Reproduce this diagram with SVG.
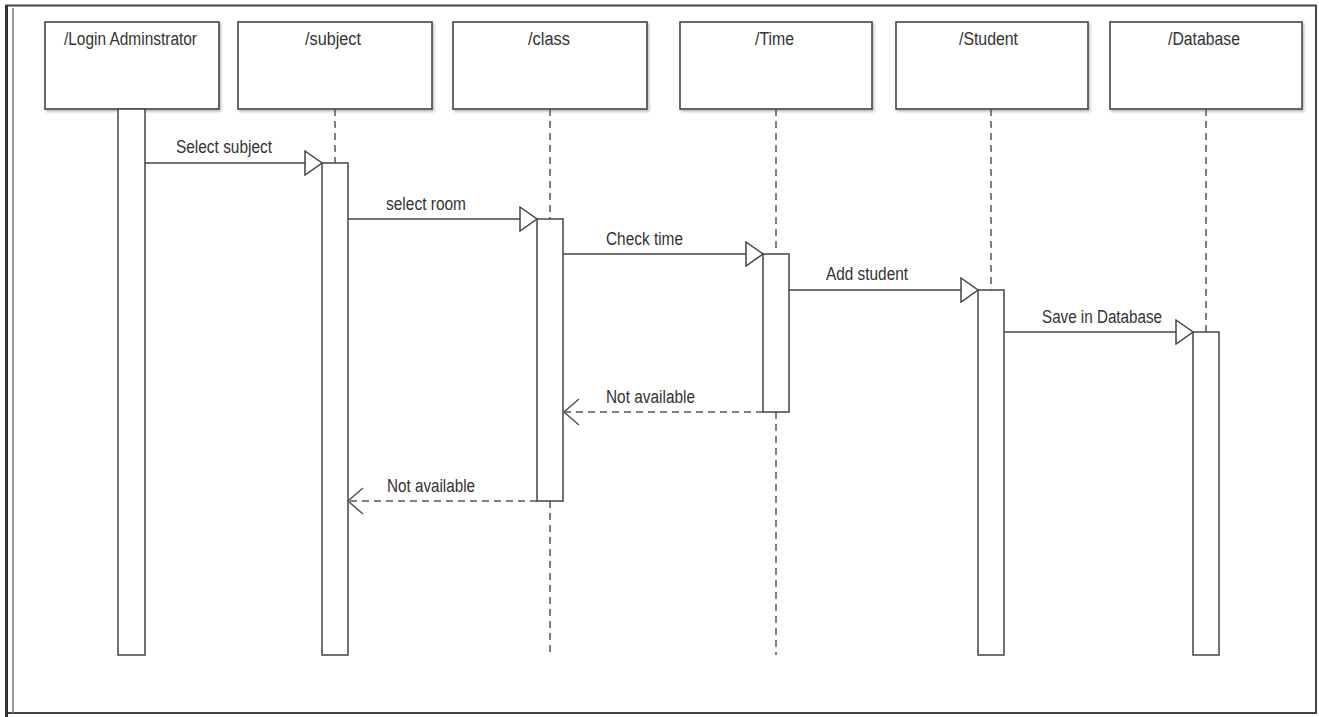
<svg xmlns="http://www.w3.org/2000/svg" width="1319" height="717" viewBox="0 0 1319 717">
<style>
.box{fill:#fff;stroke:#444;stroke-width:1.6}
.act{fill:#fff;stroke:#444;stroke-width:1.5}
.life{stroke:#555;stroke-width:1.5;stroke-dasharray:7 5;fill:none}
.t{font-family:"Liberation Sans",Arial,sans-serif;font-size:18px;fill:#333}
.msg{stroke:#444;stroke-width:1.5;fill:none}
.ret{stroke:#555;stroke-width:1.5;stroke-dasharray:7 5;fill:none}
</style>
<defs>
<filter id="sh" x="-5%" y="-5%" width="115%" height="120%">
<feDropShadow dx="1.5" dy="2" stdDeviation="1.2" flood-color="#000" flood-opacity="0.25"/>
</filter>
<marker id="tri" markerUnits="userSpaceOnUse" markerWidth="19" markerHeight="26" viewBox="-1 -1 19 26" refX="17" refY="12" orient="auto">
<path d="M0,0 L17,12 L0,24 Z" fill="#fff" stroke="#444" stroke-width="1.5"/>
</marker>
<marker id="open" markerUnits="userSpaceOnUse" markerWidth="17" markerHeight="28" viewBox="-1 -1 17 28" refX="15" refY="13" orient="auto">
<path d="M0,0 L15,13 L0,26" fill="none" stroke="#555" stroke-width="1.5"/>
</marker>
</defs>
<rect width="1319" height="717" fill="#fff"/>
<g id="frame" fill="none" stroke="#444">
<rect x="6.5" y="5.5" width="1309.5" height="707.5" stroke-width="2"/>
<line x1="6.5" y1="5" x2="6.5" y2="717" stroke-width="3" stroke="#333"/>
<line x1="13" y1="8" x2="13" y2="713" stroke-width="1.5" stroke="#777"/>
</g>

<g id="login">
<rect class="box" x="45" y="22" width="174" height="87" filter="url(#sh)"/>
<text class="t" x="64" y="45" textLength="133" lengthAdjust="spacingAndGlyphs">/Login Adminstrator</text>
<rect class="act" x="118" y="109" width="27" height="546"/>
</g>

<g id="subject">
<rect class="box" x="238" y="22" width="194" height="87" filter="url(#sh)"/>
<text class="t" x="305" y="45" textLength="56" lengthAdjust="spacingAndGlyphs">/subject</text>
<line class="life" x1="335" y1="109" x2="335" y2="163"/>
<rect class="act" x="322" y="163" width="26" height="492"/>
</g>

<g id="class">
<rect class="box" x="453" y="22" width="194" height="87" filter="url(#sh)"/>
<text class="t" x="528" y="45" textLength="42" lengthAdjust="spacingAndGlyphs">/class</text>
<line class="life" x1="550" y1="109" x2="550" y2="219"/>
<line class="life" x1="550" y1="501" x2="550" y2="655"/>
<rect class="act" x="537" y="219" width="26" height="282"/>
</g>

<g id="time">
<rect class="box" x="680" y="22" width="192" height="87" filter="url(#sh)"/>
<text class="t" x="755" y="45" textLength="39" lengthAdjust="spacingAndGlyphs">/Time</text>
<line class="life" x1="776" y1="109" x2="776" y2="254"/>
<line class="life" x1="776" y1="412" x2="776" y2="655"/>
<rect class="act" x="763" y="254" width="26" height="158"/>
</g>

<g id="student">
<rect class="box" x="896" y="22" width="192" height="87" filter="url(#sh)"/>
<text class="t" x="959" y="45" textLength="59" lengthAdjust="spacingAndGlyphs">/Student</text>
<line class="life" x1="991" y1="109" x2="991" y2="290"/>
<rect class="act" x="978" y="290" width="26" height="365"/>
</g>

<g id="database">
<rect class="box" x="1110" y="22" width="192" height="87" filter="url(#sh)"/>
<text class="t" x="1168" y="45" textLength="72" lengthAdjust="spacingAndGlyphs">/Database</text>
<line class="life" x1="1206" y1="109" x2="1206" y2="332"/>
<rect class="act" x="1193" y="332" width="26" height="323"/>
</g>

<g id="connectors">
<line class="msg" x1="145" y1="163" x2="322" y2="163" marker-end="url(#tri)"/>
<text class="t" x="176" y="153" textLength="96" lengthAdjust="spacingAndGlyphs">Select subject</text>
<line class="msg" x1="348" y1="219" x2="537" y2="219" marker-end="url(#tri)"/>
<text class="t" x="386" y="210" textLength="80" lengthAdjust="spacingAndGlyphs">select room</text>
<line class="msg" x1="563" y1="254" x2="763" y2="254" stroke-width="2.4" marker-end="url(#tri)"/>
<text class="t" x="606" y="245" textLength="77" lengthAdjust="spacingAndGlyphs">Check time</text>
<line class="msg" x1="789" y1="290" x2="978" y2="290" marker-end="url(#tri)"/>
<text class="t" x="826" y="280" textLength="82" lengthAdjust="spacingAndGlyphs">Add student</text>
<line class="msg" x1="1004" y1="332" x2="1193" y2="332" marker-end="url(#tri)"/>
<text class="t" x="1042" y="323" textLength="120" lengthAdjust="spacingAndGlyphs">Save in Database</text>
<line class="ret" x1="763" y1="412" x2="564" y2="412" marker-end="url(#open)"/>
<text class="t" x="606" y="403" textLength="89" lengthAdjust="spacingAndGlyphs">Not available</text>
<line class="ret" x1="537" y1="501" x2="348" y2="501" marker-end="url(#open)"/>
<text class="t" x="387" y="492" textLength="88" lengthAdjust="spacingAndGlyphs">Not available</text>
</g>
</svg>
